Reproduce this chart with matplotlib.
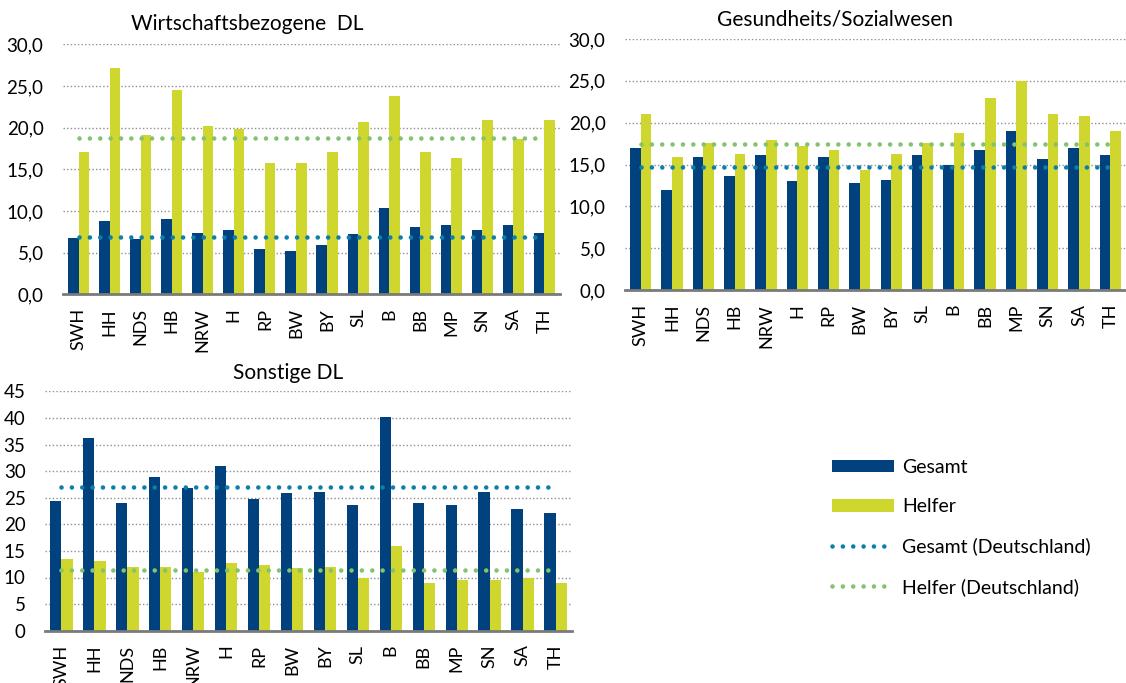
import matplotlib
matplotlib.use("Agg")
import matplotlib.pyplot as plt
import numpy as np
from matplotlib.ticker import FuncFormatter, MultipleLocator

plt.rcParams['font.family'] = ['Lato', 'DejaVu Sans']

laender = ["SWH", "HH", "NDS", "HB", "NRW", "H", "RP", "BW", "BY", "SL", "B", "BB", "MP", "SN", "SA", "TH"]

# Wirtschaftsbezogene DL
wdl_gesamt = [6.8, 8.8, 6.6, 9.0, 7.4, 7.7, 5.4, 5.2, 5.9, 7.2, 10.4, 8.1, 8.3, 7.7, 8.3, 7.4]
wdl_helfer = [17.1, 27.2, 19.1, 24.5, 20.2, 19.8, 15.8, 15.8, 17.1, 20.7, 23.8, 17.1, 16.4, 20.9, 18.6, 20.9]
wdl_de_gesamt = 6.9
wdl_de_helfer = 18.8

# Gesundheits/Sozialwesen
gs_gesamt = [17.0, 12.0, 15.9, 13.6, 16.1, 13.0, 15.9, 12.8, 13.2, 16.1, 15.0, 16.7, 19.0, 15.6, 17.0, 16.1]
gs_helfer = [21.0, 15.9, 17.6, 16.3, 17.9, 17.2, 16.7, 14.3, 16.3, 17.6, 18.8, 23.0, 25.0, 21.0, 20.8, 19.0]
gs_de_gesamt = 14.7
gs_de_helfer = 17.5

# Sonstige DL
sdl_gesamt = [24.3, 36.3, 24.0, 28.9, 26.8, 31.0, 24.7, 25.8, 26.1, 23.6, 40.2, 24.0, 23.6, 26.1, 22.9, 22.2]
sdl_helfer = [13.5, 13.1, 12.0, 12.0, 11.0, 12.7, 12.4, 11.7, 12.0, 10.0, 15.9, 8.9, 9.6, 9.6, 10.0, 8.9]
sdl_de_gesamt = 27.0
sdl_de_helfer = 11.5

titles = ["Wirtschaftsbezogene  DL", "Gesundheits/Sozialwesen", "Sonstige DL"]
legend_labels = ["Gesamt", "Helfer", "Gesamt (Deutschland)", "Helfer (Deutschland)"]

C_GES = "#00417e"
C_HEL = "#cfd72f"
C_DEG = "#0d7fa8"
C_DEH = "#82c46e"

W, H = 1126, 683
fig = plt.figure(figsize=(W / 100, H / 100), dpi=100)


def ax_px(l, t, r, b):
    return fig.add_axes([l / W, 1 - b / H, (r - l) / W, (b - t) / H])


def panel(ax, ges, hel, deg, deh, ymax, step, fmt):
    x = np.arange(len(laender))
    bw = 0.34
    ax.bar(x - bw / 2, ges, bw, color=C_GES, zorder=2)
    ax.bar(x + bw / 2, hel, bw, color=C_HEL, zorder=2)
    dot = (0, (0.01, 2.25))
    lg, = ax.plot(x, [deg] * len(x), color=C_DEG, lw=3.3, ls=dot,
                  dash_capstyle='round', zorder=3)
    lh, = ax.plot(x, [deh] * len(x), color=C_DEH, lw=3.3, ls=dot,
                  dash_capstyle='round', zorder=3)
    ax.set_xlim(-0.5, len(x) - 0.5)
    ax.set_ylim(0, ymax)
    ax.yaxis.set_major_locator(MultipleLocator(step))
    ax.yaxis.set_major_formatter(FuncFormatter(fmt))
    ax.grid(axis='y', color='#8f8f8f', lw=1.0, ls=(0, (1, 1.6)), zorder=0)
    ax.set_axisbelow(True)
    for s in ['top', 'right', 'left']:
        ax.spines[s].set_visible(False)
    ax.spines['bottom'].set_color('#7a7a7a')
    ax.spines['bottom'].set_linewidth(2.0)
    ax.spines['bottom'].set_zorder(4)
    ax.set_xticks(x)
    ax.set_xticklabels(laender, rotation=90, fontsize=13)
    ax.tick_params(axis='x', length=0, pad=10)
    ax.tick_params(axis='y', length=0, pad=14, labelsize=13.5)
    return lg, lh


fmt_dec = lambda v, p: f"{v:.1f}".replace('.', ',')
fmt_int = lambda v, p: f"{v:.0f}"

ax1 = ax_px(63, 44.3, 560, 294.3)
h1 = panel(ax1, wdl_gesamt, wdl_helfer, wdl_de_gesamt, wdl_de_helfer, 30, 5, fmt_dec)
ax2 = ax_px(625, 39, 1126, 290)
panel(ax2, gs_gesamt, gs_helfer, gs_de_gesamt, gs_de_helfer, 30, 5, fmt_dec)
ax3 = ax_px(45, 391.3, 572, 630.7)
panel(ax3, sdl_gesamt, sdl_helfer, sdl_de_gesamt, sdl_de_helfer, 45, 5, fmt_int)

fig.text(247 / W, 1 - 24 / H, titles[0], fontsize=15, ha='center', va='center')
fig.text(835 / W, 1 - 20 / H, titles[1], fontsize=15, ha='center', va='center')
fig.text(288 / W, 1 - 373 / H, titles[2], fontsize=15, ha='center', va='center')

bars = [b for b in ax1.containers]
handles = [bars[0], bars[1], h1[0], h1[1]]
fig.legend(handles, legend_labels, loc='upper left',
           bbox_to_anchor=(832 / W, 1 - 459 / H), frameon=False,
           fontsize=14, handlelength=3.2, handleheight=0.62,
           handletextpad=0.4, labelspacing=1.15, borderpad=0, borderaxespad=0)

fig.savefig("out.png", dpi=100)
